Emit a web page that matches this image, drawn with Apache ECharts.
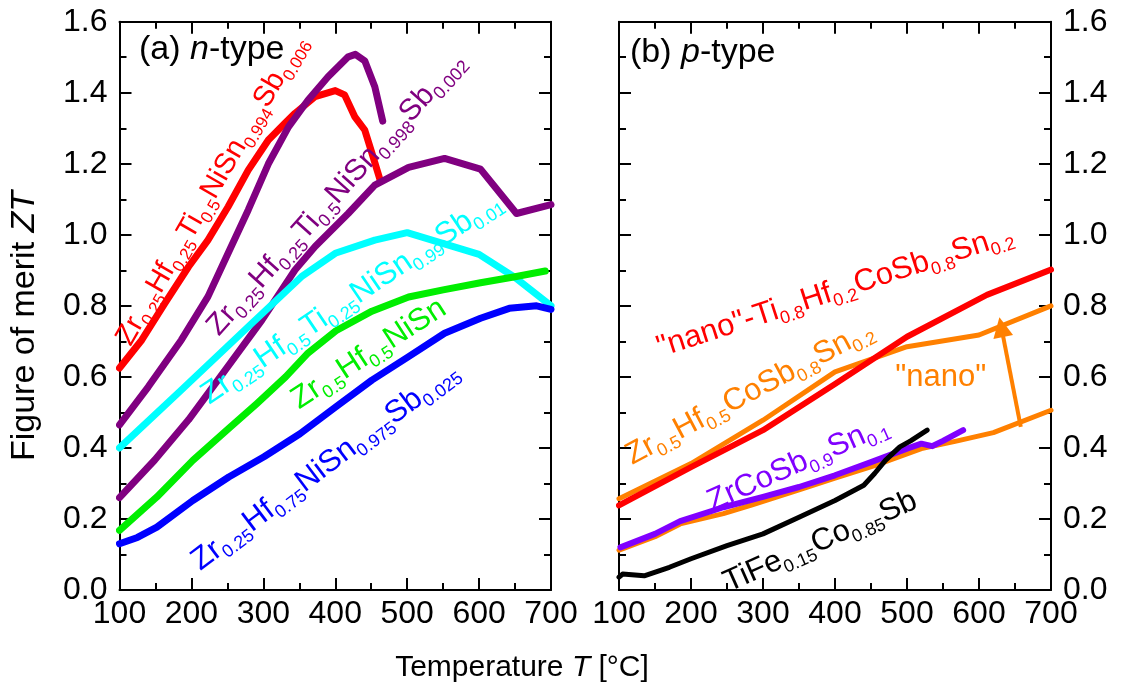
<!DOCTYPE html>
<html>
<head>
<meta charset="utf-8">
<script src="https://cdn.jsdelivr.net/npm/echarts@6/dist/echarts.min.js"></script>
<style>html,body{margin:0;padding:0;background:#fff}#c{width:1126px;height:698px}</style>
</head>
<body>
<div id="c"></div>
<script>
// ---------- data (T in °C, ZT) ----------
const xTickLabels = [100, 200, 300, 400, 500, 600, 700];
const yTickLabels = ['0.0', '0.2', '0.4', '0.6', '0.8', '1.0', '1.2', '1.4', '1.6'];

// (a) n-type
const nRed = [[100,0.625],[131,0.704],[163,0.807],[196,0.91],[223,0.985],[251,1.079],[279,1.182],[307,1.267],[330,1.314],[344,1.342],[372,1.389],[400,1.406],[413,1.394],[427,1.333],[441,1.295],[451,1.23],[463,1.15]];
const nPurpleA = [[100,0.465],[140,0.572],[186,0.704],[223,0.826],[251,0.948],[279,1.07],[307,1.2],[335,1.304],[362,1.379],[390,1.445],[418,1.501],[428,1.508],[441,1.49],[455,1.417],[466,1.32]];
const nPurpleB = [[100,0.26],[149,0.366],[196,0.479],[247,0.619],[298,0.76],[344,0.901],[372,0.967],[418,1.06],[455,1.14],[502,1.19],[552,1.215],[602,1.185],[652,1.06],[700,1.085]];
const nCyan = [[100,0.40],[186,0.563],[279,0.741],[353,0.882],[400,0.948],[455,0.985],[500,1.006],[600,0.945],[650,0.88],[700,0.80]];
const nGreen = [[100,0.168],[152,0.262],[202,0.365],[252,0.455],[291,0.525],[331,0.60],[361,0.665],[401,0.73],[451,0.785],[502,0.825],[550,0.845],[602,0.865],[650,0.882],[692,0.898]];
const nBlue = [[100,0.13],[125,0.148],[152,0.177],[202,0.252],[252,0.318],[301,0.375],[351,0.44],[401,0.516],[451,0.591],[502,0.657],[552,0.723],[602,0.765],[642,0.793],[680,0.80],[700,0.79]];

// (b) p-type
const pRed = [[100,0.238],[200,0.346],[300,0.45],[400,0.58],[500,0.713],[611,0.831],[700,0.902]];
const pOrangeNano = [[100,0.257],[200,0.356],[300,0.478],[400,0.614],[500,0.685],[600,0.718],[700,0.80]];
const pOrangeBulk = [[100,0.112],[150,0.15],[185,0.186],[245,0.215],[285,0.24],[350,0.282],[400,0.315],[455,0.35],[520,0.398],[570,0.42],[620,0.443],[700,0.506]];
const pViolet = [[102,0.12],[150,0.158],[185,0.194],[245,0.233],[300,0.262],[350,0.29],[400,0.323],[450,0.36],[500,0.398],[520,0.412],[535,0.405],[550,0.42],[578,0.45]];
const pBlack = [[100,0.036],[105,0.045],[135,0.04],[170,0.064],[200,0.088],[250,0.125],[300,0.158],[350,0.205],[400,0.252],[440,0.295],[455,0.328],[470,0.365],[490,0.403],[505,0.42],[528,0.45]];
const nanoArrow = [[658,0.459],[631,0.74]];

// annotation texts
const nLabelText = ['Zr_{0.25}Hf_{0.25}Ti_{0.5}NiSn_{0.994}Sb_{0.006}','Zr_{0.25}Hf_{0.25}Ti_{0.5}NiSn_{0.998}Sb_{0.002}','Zr_{0.25}Hf_{0.5}Ti_{0.25}NiSn_{0.99}Sb_{0.01}','Zr_{0.5}Hf_{0.5}NiSn','Zr_{0.25}Hf_{0.75}NiSn_{0.975}Sb_{0.025}'];
const pLabelText = ['"nano"-Ti_{0.8}Hf_{0.2}CoSb_{0.8}Sn_{0.2}','Zr_{0.5}Hf_{0.5}CoSb_{0.8}Sn_{0.2}','ZrCoSb_{0.9}Sn_{0.1}','TiFe_{0.15}Co_{0.85}Sb','"nano"'];

// ---------- layout / style ----------
const nLabelAt = [[128.4,0.669],[249.2,0.693],[233.0,0.4975],[357.5,0.4837],[221.1,0.0298]];
const nLabelAngle = [60,48,34,33,37];
const nLabelSize = [29,30,31,31,31];
const nLabelColor = ['#ff0000','#800080','#00ffff','#00ee00','#0000ff'];
const pLabelAt = [[162.2,0.628],[124.7,0.3257],[235.7,0.1954],[258.2,-0.0324],[547,0.597]];
const pLabelAngle = [18,28,24,24,0];
const pLabelSize = [31,31,31,31,31];
const pLabelColor = ['#ff0000','#ff8000','#8000ff','#000000','#ff8000'];

const FONT = '"Liberation Sans", Arial, sans-serif';

function toRich(s) {
  return '{m|' + s.replace(/_\{([^}]*)\}/g, '}{s|$1}{m|') + '}';
}
function richFor(size) {
  return {
    m: {fontSize: size, fontFamily: FONT, lineHeight: 38, verticalAlign: 'middle', textBorderWidth: 0},
    s: {fontSize: Math.round(size * 0.59), fontFamily: FONT, lineHeight: 16, verticalAlign: 'bottom', textBorderWidth: 0}
  };
}

function xAx(grid, pos, showLabel) {
  return {
    type: 'value', gridIndex: grid, position: pos, min: 100, max: 700, interval: 100,
    axisLine: {show: true, onZero: false, lineStyle: {color: '#000', width: 2}},
    axisTick: {show: true, inside: true, length: 12, lineStyle: {color: '#000', width: 2}},
    minorTick: {show: true, splitNumber: 2, length: 7, lineStyle: {color: '#000', width: 2}},
    splitLine: {show: false},
    axisLabel: {show: showLabel, fontSize: 32, fontFamily: FONT, color: '#000', margin: 8,
      formatter: v => String(xTickLabels[Math.round((v - 100) / 100)])}
  };
}
function yAx(grid, pos, showLabel) {
  return {
    type: 'value', gridIndex: grid, position: pos, min: 0, max: 1.6, interval: 0.2,
    axisLine: {show: true, onZero: false, lineStyle: {color: '#000', width: 2}},
    axisTick: {show: true, inside: true, length: 12, lineStyle: {color: '#000', width: 2}},
    minorTick: {show: true, splitNumber: 2, length: 7, lineStyle: {color: '#000', width: 2}},
    splitLine: {show: false},
    axisLabel: {show: showLabel, fontSize: 32, fontFamily: FONT, color: '#000', margin: 12,
      formatter: v => yTickLabels[Math.round(v / 0.2)]}
  };
}
function line(data, color, width, xi, yi) {
  return {type: 'line', data: data, xAxisIndex: xi, yAxisIndex: yi, symbol: 'none',
    lineStyle: {color: color, width: width, join: 'round', cap: 'round'}, silent: true, z: 3};
}
function labels(texts, at, angles, sizes, colors, xi, yi) {
  return {
    type: 'scatter', xAxisIndex: xi, yAxisIndex: yi, symbol: 'circle', symbolSize: 0, clip: false, silent: true, z: 5,
    itemStyle: {color: '#ffffff', opacity: 1},
    emphasis: {disabled: true},
    data: texts.map((t, i) => ({
      name: t, value: at[i],
      label: {rotate: angles[i], color: colors[i], rich: richFor(sizes[i]), fontSize: sizes[i],
        align: angles[i] === 0 ? 'center' : 'left',
        verticalAlign: angles[i] === 0 ? 'middle' : 'bottom'}
    })),
    label: {show: true, position: [0, 0], formatter: p => toRich(p.name), rich: richFor(31),
      fontSize: 31, fontFamily: FONT, textBorderWidth: 0, textBorderColor: 'transparent', opacity: 1}
  };
}

const chart = echarts.init(document.getElementById('c'), null, {renderer: 'canvas'});
chart.setOption({
  animation: false,
  backgroundColor: '#fff',
  grid: [
    {left: 119.5, top: 21.7, width: 431.5, height: 568.3},
    {left: 619, top: 21.7, width: 432, height: 568.3}
  ],
  xAxis: [xAx(0, 'bottom', true), xAx(0, 'top', false), xAx(1, 'bottom', true), xAx(1, 'top', false)],
  yAxis: [yAx(0, 'left', true), yAx(0, 'right', false), yAx(1, 'left', false), yAx(1, 'right', true)],
  series: [
    line(nRed, '#ff0000', 7, 0, 0),
    line(nPurpleA, '#800080', 7, 0, 0),
    line(nPurpleB, '#800080', 7, 0, 0),
    line(nCyan, '#00ffff', 7, 0, 0),
    line(nGreen, '#00ee00', 7, 0, 0),
    line(nBlue, '#0000ff', 7, 0, 0),
    line(pOrangeBulk, '#ff8000', 5, 2, 3),
    line(pOrangeNano, '#ff8000', 5, 2, 3),
    line(pViolet, '#8000ff', 6, 2, 3),
    line(pBlack, '#000000', 5, 2, 3),
    line(pRed, '#ff0000', 6, 2, 3),
    {type: 'lines', coordinateSystem: 'cartesian2d', xAxisIndex: 2, yAxisIndex: 3, silent: true, z: 4,
      symbol: ['none', 'triangle'], symbolSize: 20,
      lineStyle: {color: '#ff8000', width: 4, opacity: 1},
      data: [{coords: nanoArrow}]},
    labels(nLabelText, nLabelAt, nLabelAngle, nLabelSize, nLabelColor, 0, 0),
    labels(pLabelText, pLabelAt, pLabelAngle, pLabelSize, pLabelColor, 2, 3)
  ],
  graphic: [
    {type: 'text', x: 139, y: 50, silent: true,
      style: {text: '(a) {i|n}-type', fontSize: 34, fontFamily: FONT, fill: '#000', align: 'left', verticalAlign: 'middle',
        rich: {i: {fontStyle: 'italic', fontSize: 34, fontFamily: FONT}}}},
    {type: 'text', x: 630, y: 53, silent: true,
      style: {text: '(b) {i|p}-type', fontSize: 34, fontFamily: FONT, fill: '#000', align: 'left', verticalAlign: 'middle',
        rich: {i: {fontStyle: 'italic', fontSize: 34, fontFamily: FONT}}}},
    {type: 'text', x: 522, y: 668, silent: true,
      style: {text: 'Temperature {i|T} [°C]', fontSize: 30, fontFamily: FONT, fill: '#000', align: 'center', verticalAlign: 'middle',
        rich: {i: {fontStyle: 'italic', fontSize: 30, fontFamily: FONT}}}},
    {type: 'text', x: 25, y: 326, rotation: Math.PI / 2, silent: true,
      style: {text: 'Figure of merit {i|ZT}', fontSize: 34, fontFamily: FONT, fill: '#000', align: 'center', verticalAlign: 'middle',
        rich: {i: {fontStyle: 'italic', fontSize: 34, fontFamily: FONT}}}}
  ]
});
</script>
</body>
</html>
